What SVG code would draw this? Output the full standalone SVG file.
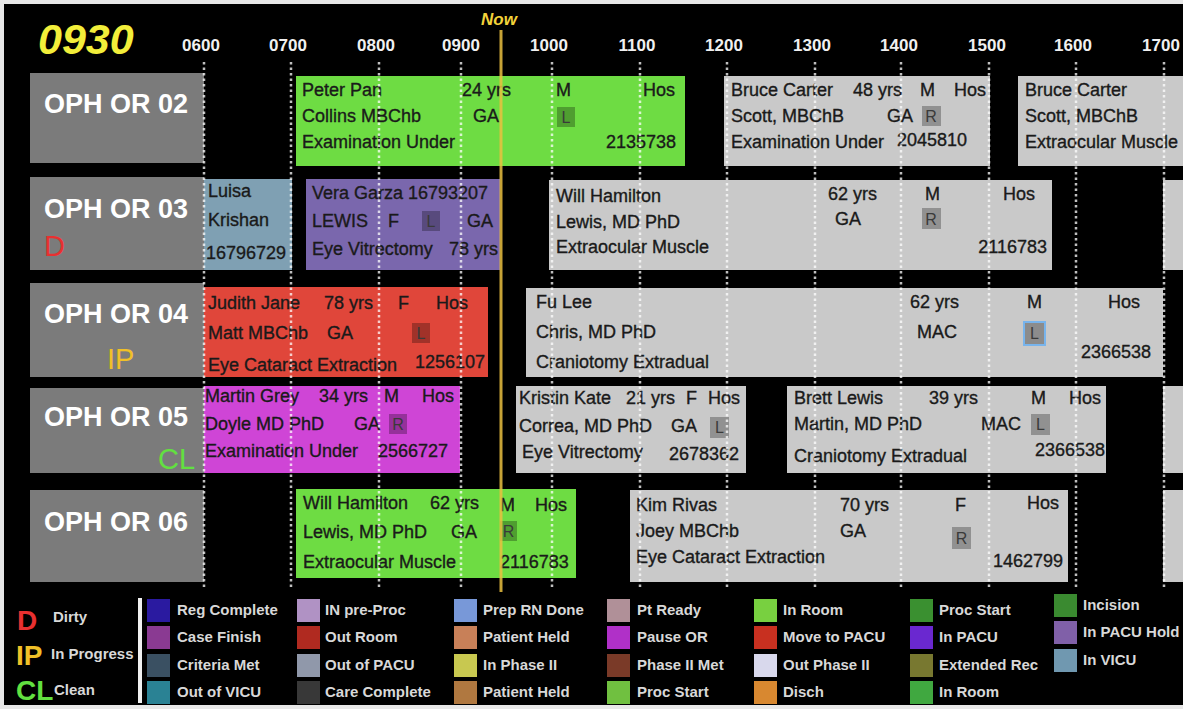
<svg xmlns="http://www.w3.org/2000/svg" width="1183" height="709" viewBox="0 0 1183 709">
<style>
.bg{fill:#000}
.room{fill:#7b7b7b}
.rl{font-family:"Liberation Sans",Arial,sans-serif;font-weight:bold;font-size:27px;fill:#fff}
.st{font-family:"Liberation Sans",Arial,sans-serif;font-size:29px}
.t{font-family:"Liberation Sans",Arial,sans-serif;font-size:18px;fill:#1a1a1a;stroke:#1a1a1a;stroke-width:.35}
.tick{font-family:"Liberation Sans",Arial,sans-serif;font-weight:bold;font-size:17px;fill:#f0f0f0;text-anchor:middle}
.grid line{stroke:#fff;stroke-width:2.5;stroke-dasharray:2.5 3;opacity:.75}
.badge{fill:#000;opacity:.28}
.bt{font-family:"Liberation Sans",Arial,sans-serif;font-size:16px;fill:#3a3a3a;text-anchor:middle}
.green{fill:#6edc43}
.gray{fill:#c9c9c9}
.lg{font-family:"Liberation Sans",Arial,sans-serif;font-weight:bold;font-size:15px;fill:#d8d8d8}
.big{font-family:"Liberation Sans",Arial,sans-serif;font-weight:bold;font-size:28px}
</style>
<rect x="0" y="0" width="1183" height="709" fill="#e8e8e8"/>
<rect class="bg" x="4" y="4" width="1179" height="701"/>

<g id="header">
<text x="38" y="54" font-family="Liberation Sans,Arial,sans-serif" font-weight="bold" font-style="italic" font-size="43" fill="#f2ee3a">0930</text>
<text x="499" y="25" font-family="Liberation Sans,Arial,sans-serif" font-weight="bold" font-style="italic" font-size="17" fill="#f2d23a" text-anchor="middle">Now</text>
<text class="tick" x="201" y="51">0600</text>
<text class="tick" x="288" y="51">0700</text>
<text class="tick" x="376" y="51">0800</text>
<text class="tick" x="461" y="51">0900</text>
<text class="tick" x="549" y="51">1000</text>
<text class="tick" x="637" y="51">1100</text>
<text class="tick" x="724" y="51">1200</text>
<text class="tick" x="812" y="51">1300</text>
<text class="tick" x="899" y="51">1400</text>
<text class="tick" x="987" y="51">1500</text>
<text class="tick" x="1073" y="51">1600</text>
<text class="tick" x="1161" y="51">1700</text>
</g>

<g id="room-02"><rect class="room" x="30" y="73" width="174" height="90"/><text class="rl" x="44" y="113">OPH OR 02</text></g>
<g id="room-03"><rect class="room" x="30" y="177" width="174" height="93"/><text class="rl" x="44" y="218">OPH OR 03</text><text class="st" x="44" y="256" fill="#e83030">D</text></g>
<g id="room-04"><rect class="room" x="30" y="283" width="174" height="94"/><text class="rl" x="44" y="323">OPH OR 04</text><text class="st" x="107" y="369" fill="#f0c028">IP</text></g>
<g id="room-05"><rect class="room" x="30" y="388" width="174" height="85"/><text class="rl" x="44" y="426">OPH OR 05</text><text class="st" x="158" y="469" fill="#62e040">CL</text></g>
<g id="room-06"><rect class="room" x="30" y="490" width="174" height="92"/><text class="rl" x="44" y="531">OPH OR 06</text></g>

<g id="case-peter-pan">
<rect class="green" x="296" y="76" width="389" height="90"/>
<text class="t" x="302" y="96">Peter Pan</text><text class="t" x="462" y="96">24 yrs</text><text class="t" x="556" y="96">M</text><text class="t" x="643" y="96">Hos</text>
<text class="t" x="302" y="122">Collins MBChb</text><text class="t" x="473" y="122">GA</text>
<rect class="badge" x="557" y="107" width="18" height="20"/><text class="bt" x="566" y="123">L</text>
<text class="t" x="302" y="148">Examination Under</text><text class="t" x="676" y="148" text-anchor="end">2135738</text>
</g>
<g id="case-bruce-carter-1">
<rect class="gray" x="724" y="76" width="266" height="90"/>
<text class="t" x="731" y="96">Bruce Carter</text><text class="t" x="853" y="96">48 yrs</text><text class="t" x="920" y="96">M</text><text class="t" x="954" y="96">Hos</text>
<text class="t" x="731" y="122">Scott, MBChB</text><text class="t" x="887" y="122">GA</text>
<rect class="badge" x="922" y="106" width="19" height="20"/><text class="bt" x="931" y="122">R</text>
<text class="t" x="731" y="148">Examination Under</text><text class="t" x="897" y="146">2045810</text>
</g>
<g id="case-bruce-carter-2">
<rect class="gray" x="1018" y="76" width="165" height="90"/>
<text class="t" x="1025" y="96">Bruce Carter</text>
<text class="t" x="1025" y="122">Scott, MBChB</text>
<text class="t" x="1025" y="148">Extraocular Muscle</text>
</g>

<g id="case-luisa">
<rect x="204" y="179" width="88" height="91" fill="#7fa0b3"/>
<text class="t" x="208" y="197">Luisa</text>
<text class="t" x="208" y="226">Krishan</text>
<text class="t" x="206" y="259">16796729</text>
</g>
<g id="case-vera-garza">
<rect x="306" y="179" width="194" height="91" fill="#7a67ad"/>
<text class="t" x="312" y="199">Vera Garza 16793207</text>
<text class="t" x="312" y="227">LEWIS</text><text class="t" x="388" y="227">F</text><text class="t" x="467" y="227">GA</text>
<rect class="badge" x="422" y="211" width="18" height="20"/><text class="bt" x="431" y="227">L</text>
<text class="t" x="312" y="255">Eye Vitrectomy</text><text class="t" x="449" y="255">78 yrs</text>
</g>
<g id="case-will-hamilton-1">
<rect class="gray" x="549" y="180" width="503" height="90"/>
<text class="t" x="556" y="202">Will Hamilton</text><text class="t" x="828" y="200">62 yrs</text><text class="t" x="925" y="200">M</text><text class="t" x="1003" y="200">Hos</text>
<text class="t" x="556" y="228">Lewis, MD PhD</text><text class="t" x="835" y="225">GA</text>
<rect class="badge" x="922" y="208" width="19" height="21"/><text class="bt" x="931" y="225">R</text>
<text class="t" x="556" y="253">Extraocular Muscle</text><text class="t" x="1047" y="253" text-anchor="end">2116783</text>
</g>
<g id="case-right-03"><rect class="gray" x="1163" y="180" width="20" height="90"/></g>

<g id="case-judith-jane">
<rect x="204" y="287" width="284" height="90" fill="#e0463a"/>
<text class="t" x="208" y="309">Judith Jane</text><text class="t" x="324" y="309">78 yrs</text><text class="t" x="398" y="309">F</text><text class="t" x="436" y="309">Hos</text>
<text class="t" x="208" y="339">Matt MBChb</text><text class="t" x="327" y="339">GA</text>
<rect class="badge" x="412" y="323" width="18" height="20"/><text class="bt" x="421" y="339">L</text>
<text class="t" x="208" y="371">Eye Cataract Extraction</text><text class="t" x="415" y="368">1256107</text>
</g>
<g id="case-fu-lee">
<rect class="gray" x="526" y="288" width="637" height="89"/>
<text class="t" x="536" y="308">Fu Lee</text><text class="t" x="910" y="308">62 yrs</text><text class="t" x="1027" y="308">M</text><text class="t" x="1108" y="308">Hos</text>
<text class="t" x="536" y="338">Chris, MD PhD</text><text class="t" x="917" y="338">MAC</text>
<rect x="1024" y="322" width="21" height="23" fill="#8c8c8c" stroke="#78b4ec" stroke-width="2"/><text class="bt" x="1034.5" y="339">L</text>
<text class="t" x="536" y="368">Craniotomy Extradual</text><text class="t" x="1151" y="358" text-anchor="end">2366538</text>
</g>

<g id="case-martin-grey">
<rect x="204" y="386" width="256" height="87" fill="#cf45d6"/>
<text class="t" x="205" y="402">Martin Grey</text><text class="t" x="319" y="402">34 yrs</text><text class="t" x="384" y="402">M</text><text class="t" x="422" y="402">Hos</text>
<text class="t" x="205" y="430">Doyle MD PhD</text><text class="t" x="354" y="430">GA</text>
<rect class="badge" x="389" y="414" width="18" height="20"/><text class="bt" x="398" y="430">R</text>
<text class="t" x="205" y="457">Examination Under</text><text class="t" x="378" y="457">2566727</text>
</g>
<g id="case-kristin-kate">
<rect class="gray" x="516" y="386" width="230" height="87"/>
<text class="t" x="519" y="404">Kristin Kate</text><text class="t" x="626" y="404">21 yrs</text><text class="t" x="686" y="404">F</text><text class="t" x="708" y="404">Hos</text>
<text class="t" x="519" y="432">Correa, MD PhD</text><text class="t" x="671" y="432">GA</text>
<rect class="badge" x="710" y="417" width="19" height="21"/><text class="bt" x="719.5" y="433">L</text>
<text class="t" x="522" y="458">Eye Vitrectomy</text><text class="t" x="669" y="460">2678362</text>
</g>
<g id="case-brett-lewis">
<rect class="gray" x="787" y="386" width="319" height="87"/>
<text class="t" x="794" y="404">Brett Lewis</text><text class="t" x="929" y="404">39 yrs</text><text class="t" x="1031" y="404">M</text><text class="t" x="1069" y="404">Hos</text>
<text class="t" x="794" y="430">Martin, MD PhD</text><text class="t" x="981" y="430">MAC</text>
<rect class="badge" x="1031" y="414" width="19" height="21"/><text class="bt" x="1040.5" y="430">L</text>
<text class="t" x="794" y="462">Craniotomy Extradual</text><text class="t" x="1035" y="456">2366538</text>
</g>
<g id="case-right-05"><rect class="gray" x="1163" y="386" width="20" height="87"/></g>

<g id="case-will-hamilton-2">
<rect class="green" x="296" y="489" width="280" height="89"/>
<text class="t" x="303" y="509">Will Hamilton</text><text class="t" x="430" y="509">62 yrs</text><text class="t" x="500" y="511">M</text><text class="t" x="535" y="511">Hos</text>
<text class="t" x="303" y="538">Lewis, MD PhD</text><text class="t" x="451" y="538">GA</text>
<rect class="badge" x="500" y="521" width="17" height="20"/><text class="bt" x="508.5" y="537">R</text>
<text class="t" x="303" y="568">Extraocular Muscle</text><text class="t" x="500" y="568">2116783</text>
</g>
<g id="case-kim-rivas">
<rect class="gray" x="630" y="490" width="438" height="92"/>
<text class="t" x="636" y="511">Kim Rivas</text><text class="t" x="840" y="511">70 yrs</text><text class="t" x="955" y="511">F</text><text class="t" x="1027" y="509">Hos</text>
<text class="t" x="636" y="537">Joey MBChb</text><text class="t" x="840" y="537">GA</text>
<rect class="badge" x="952" y="527" width="19" height="22"/><text class="bt" x="961.5" y="544">R</text>
<text class="t" x="636" y="563">Eye Cataract Extraction</text><text class="t" x="993" y="567">1462799</text>
</g>
<g id="case-right-06"><rect class="gray" x="1163" y="490" width="20" height="92"/></g>

<g id="connectors">
<g class="grid">
<line x1="204" y1="62" x2="204" y2="590"/>
<line x1="291" y1="62" x2="291" y2="590"/>
<line x1="379" y1="62" x2="379" y2="590"/>
<line x1="461" y1="62" x2="461" y2="590"/>
<line x1="552" y1="62" x2="552" y2="590"/>
<line x1="640" y1="62" x2="640" y2="590"/>
<line x1="727" y1="62" x2="727" y2="590"/>
<line x1="815" y1="62" x2="815" y2="590"/>
<line x1="901" y1="62" x2="901" y2="590"/>
<line x1="989" y1="62" x2="989" y2="590"/>
<line x1="1076" y1="62" x2="1076" y2="590"/>
<line x1="1164" y1="62" x2="1164" y2="590"/>
</g>
<line x1="501" y1="30" x2="501" y2="592" stroke="#eac040" stroke-width="3" opacity=".85"/>
</g>

<g id="legend">
<text class="big" x="17" y="630" fill="#e83030">D</text><text class="lg" x="53" y="622">Dirty</text>
<text class="big" x="16" y="665" fill="#f0c028">IP</text><text class="lg" x="51" y="659">In Progress</text>
<text class="big" x="16" y="700" fill="#62e040">CL</text><text class="lg" x="54" y="695">Clean</text>
<rect x="138" y="598" width="4" height="105" fill="#f0f0f0"/>

<rect x="147" y="599" width="23" height="23" fill="#2a1aa0"/><text class="lg" x="177" y="615">Reg Complete</text>
<rect x="147" y="626" width="23" height="23" fill="#8a3a92"/><text class="lg" x="177" y="642">Case Finish</text>
<rect x="147" y="654" width="23" height="23" fill="#3a5062"/><text class="lg" x="177" y="670">Criteria Met</text>
<rect x="147" y="681" width="23" height="23" fill="#2a8294"/><text class="lg" x="177" y="697">Out of VICU</text>

<rect x="297" y="599" width="23" height="23" fill="#b092c4"/><text class="lg" x="325" y="615">IN pre-Proc</text>
<rect x="297" y="626" width="23" height="23" fill="#b02a20"/><text class="lg" x="325" y="642">Out Room</text>
<rect x="297" y="654" width="23" height="23" fill="#9098aa"/><text class="lg" x="325" y="670">Out of PACU</text>
<rect x="297" y="681" width="23" height="23" fill="#383838"/><text class="lg" x="325" y="697">Care Complete</text>

<rect x="454" y="599" width="23" height="23" fill="#7898d8"/><text class="lg" x="483" y="615">Prep RN Done</text>
<rect x="454" y="626" width="23" height="23" fill="#c88058"/><text class="lg" x="483" y="642">Patient Held</text>
<rect x="454" y="654" width="23" height="23" fill="#c8c850"/><text class="lg" x="483" y="670">In Phase II</text>
<rect x="454" y="681" width="23" height="23" fill="#b07840"/><text class="lg" x="483" y="697">Patient Held</text>

<rect x="607" y="599" width="23" height="23" fill="#b09098"/><text class="lg" x="637" y="615">Pt Ready</text>
<rect x="607" y="626" width="23" height="23" fill="#b030c8"/><text class="lg" x="637" y="642">Pause OR</text>
<rect x="607" y="654" width="23" height="23" fill="#7a3a28"/><text class="lg" x="637" y="670">Phase II Met</text>
<rect x="607" y="681" width="23" height="23" fill="#70c040"/><text class="lg" x="637" y="697">Proc Start</text>

<rect x="754" y="599" width="23" height="23" fill="#78d040"/><text class="lg" x="783" y="615">In Room</text>
<rect x="754" y="626" width="23" height="23" fill="#c83020"/><text class="lg" x="783" y="642">Move to PACU</text>
<rect x="754" y="654" width="23" height="23" fill="#d8d8ec"/><text class="lg" x="783" y="670">Out Phase II</text>
<rect x="754" y="681" width="23" height="23" fill="#d88830"/><text class="lg" x="783" y="697">Disch</text>

<rect x="910" y="599" width="23" height="23" fill="#3a9030"/><text class="lg" x="939" y="615">Proc Start</text>
<rect x="910" y="626" width="23" height="23" fill="#6a28d0"/><text class="lg" x="939" y="642">In PACU</text>
<rect x="910" y="654" width="23" height="23" fill="#787830"/><text class="lg" x="939" y="670">Extended Rec</text>
<rect x="910" y="681" width="23" height="23" fill="#40a840"/><text class="lg" x="939" y="697">In Room</text>

<rect x="1054" y="594" width="23" height="23" fill="#3a8a30"/><text class="lg" x="1083" y="610">Incision</text>
<rect x="1054" y="621" width="23" height="23" fill="#8060a8"/><text class="lg" x="1083" y="637">In PACU Hold</text>
<rect x="1054" y="649" width="23" height="23" fill="#7098b0"/><text class="lg" x="1083" y="665">In VICU</text>
</g>
</svg>
